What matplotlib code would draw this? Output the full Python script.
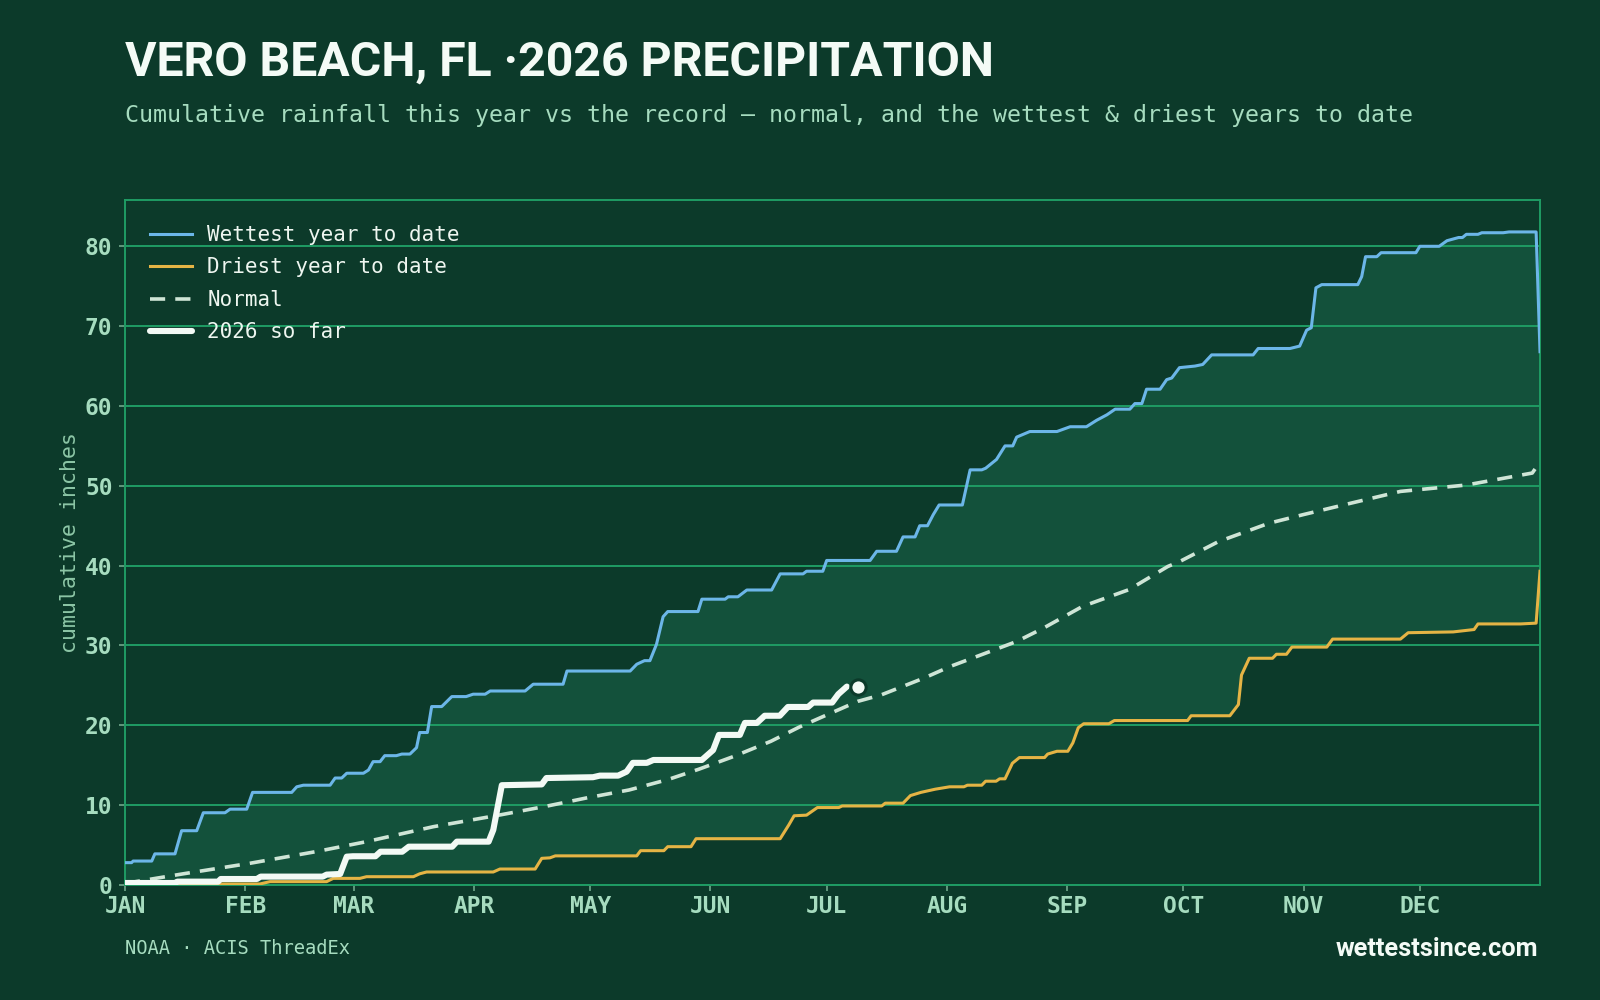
import matplotlib
matplotlib.use("Agg")
import matplotlib.pyplot as plt
import numpy as np

# ---------------- data (day of year, cumulative inches) ----------------
month_days = [0, 31, 59, 90, 120, 151, 181, 212, 243, 273, 304, 334]
month_labels = ["JAN", "FEB", "MAR", "APR", "MAY", "JUN", "JUL", "AUG", "SEP", "OCT", "NOV", "DEC"]
y_ticks = [0, 10, 20, 30, 40, 50, 60, 70, 80]

wet_days = [0, 1.7, 2.1, 6.9, 7.7, 12.9, 14.6, 18.5, 20.2, 25.8, 27.1, 31.4, 32.9, 43, 44.3, 46,
            52.9, 54.2, 55.9, 57.2, 61.5, 62.8, 64, 65.8, 67, 70, 71.4, 73.5, 75.2, 76, 78, 79.1,
            81.7, 84.3, 88, 89.8, 92.9, 94.2, 103.2, 105.3, 113, 114, 130.3, 132, 134, 135.4,
            137.1, 138.8, 140, 147.8, 148.8, 154.8, 155.6, 158.1, 160.4, 166.8, 169, 174.9, 175.8,
            180, 181, 192.2, 193.9, 199, 200.7, 203.8, 205, 207, 208.5, 210, 216, 218, 221, 222,
            224.8, 227, 229, 230, 233.4, 240.4, 243.8, 248, 250.6, 253.3, 255.4, 259.2, 260.5,
            262.3, 263.5, 267, 268.7, 270, 272, 276, 278, 280.3, 291, 292.3, 300.5, 303, 304.8,
            306, 307.2, 308.7, 318, 319, 320, 322.9, 324, 333, 334, 339, 341, 344, 345, 346, 349,
            350, 355.5, 357, 364, 365]
wet_vals = [2.8, 2.8, 3.0, 3.0, 3.9, 3.9, 6.8, 6.8, 9.05, 9.05, 9.5, 9.5, 11.6, 11.6, 12.3, 12.5,
            12.5, 13.4, 13.4, 14.0, 14.0, 14.4, 15.45, 15.45, 16.2, 16.2, 16.4, 16.4, 17.2, 19.1,
            19.1, 22.35, 22.35, 23.6, 23.6, 23.9, 23.9, 24.3, 24.3, 25.15, 25.15, 26.8, 26.8,
            27.65, 28.1, 28.1, 30.15, 33.6, 34.25, 34.25, 35.8, 35.8, 36.1, 36.1, 36.95, 36.95,
            38.97, 38.97, 39.3, 39.3, 40.65, 40.65, 41.8, 41.8, 43.6, 43.6, 45.0, 45.0, 46.4, 47.6,
            47.6, 52.0, 52.0, 52.2, 53.3, 55.0, 55.0, 56.1, 56.8, 56.8, 57.4, 57.4, 58.2, 58.9,
            59.6, 59.6, 60.3, 60.3, 62.1, 62.1, 63.3, 63.5, 64.8, 65.0, 65.2, 66.4, 66.4, 67.2,
            67.2, 67.5, 69.5, 69.8, 74.8, 75.2, 75.2, 76.2, 78.7, 78.7, 79.2, 79.2, 80.0, 80.0,
            80.7, 81.1, 81.1, 81.5, 81.5, 81.7, 81.7, 81.8, 81.8, 66.8]

dry_days = [0, 24.5, 25, 34.8, 37.4, 52, 53.7, 60.6, 62.3, 74.4, 76, 77.8, 95, 96.7, 105.8, 107.5,
            109.6, 111, 132, 133, 139, 140, 146, 147.3, 169, 171.2, 172.6, 175.8, 178.6, 184.1,
            185, 195.2, 196.1, 200.7, 202.6, 205.3, 209, 212.7, 216.4, 217.3, 221, 222, 224.7,
            225.6, 227, 228.9, 230.7, 237.2, 238, 240.4, 243.2, 244.5, 245.9, 247.3, 253.8, 255.2,
            274.1, 275, 285, 287.2, 288, 290, 296, 297, 299.6, 301, 310, 311.5, 329, 331, 342.6,
            348, 349, 360, 364, 365]
dry_vals = [0, 0, 0.13, 0.13, 0.42, 0.42, 0.83, 0.83, 1.04, 1.04, 1.4, 1.63, 1.63, 2.0, 2.0, 3.34,
            3.4, 3.65, 3.65, 4.3, 4.3, 4.8, 4.8, 5.8, 5.8, 7.5, 8.67, 8.75, 9.7, 9.7, 9.9, 9.9,
            10.25, 10.25, 11.2, 11.6, 12.0, 12.3, 12.3, 12.5, 12.5, 13.0, 13.0, 13.3, 13.3, 15.25,
            15.96, 15.96, 16.4, 16.75, 16.75, 17.8, 19.7, 20.2, 20.2, 20.6, 20.6, 21.2, 21.2, 22.6,
            26.3, 28.4, 28.4, 28.9, 28.9, 29.8, 29.8, 30.8, 30.8, 31.6, 31.7, 32.0, 32.7, 32.7,
            32.8, 39.3]

normal_days = [0, 15, 32, 49.5, 62, 79.5, 97, 109, 119, 130, 140, 148, 157, 166.6, 174, 181, 189,
               195, 206, 213, 230, 237, 247, 259, 269, 272, 282, 295, 304, 316, 329, 346, 363, 365]
normal_vals = [0.2, 1.4, 2.7, 4.2, 5.4, 7.3, 8.8, 9.9, 10.9, 11.9, 13.2, 14.5, 16.1, 18.0, 19.8,
               21.3, 23.0, 23.8, 25.9, 27.4, 30.5, 32.2, 34.9, 37.0, 39.9, 40.5, 43.0, 45.3, 46.4,
               47.8, 49.3, 50.1, 51.6, 53.0]

cur_days = [0, 12.9, 13.5, 24, 24.7, 34, 35, 51, 52, 55.5, 57.2, 58.8, 64.6, 65.9, 71.5, 73.2,
            84.4, 85.6, 93.8, 95, 97.2, 107.5, 108.7, 120.7, 122.5, 127.2, 129.4, 131, 134.6,
            136.3, 148.8, 151.7, 153.2, 158.6, 159.9, 163, 165, 168.9, 171, 176.2, 177.5, 182.4,
            184, 186.2]
cur_vals = [0.25, 0.25, 0.42, 0.42, 0.75, 0.75, 1.05, 1.05, 1.3, 1.38, 3.55, 3.6, 3.6, 4.17, 4.17,
            4.8, 4.8, 5.43, 5.43, 6.9, 12.5, 12.6, 13.4, 13.5, 13.7, 13.7, 14.2, 15.3, 15.3, 15.66,
            15.66, 16.9, 18.8, 18.8, 20.3, 20.3, 21.2, 21.2, 22.3, 22.3, 22.85, 22.85, 23.9, 24.85]

today_day = [189]
today_total = [24.8]

# ---------------- style ----------------
BG = "#0c3a2a"
FILL = "#13513b"
GRID = "#1f9c64"
MINT = "#a6dcbf"
WET_C = "#6cb6e8"
DRY_C = "#e5b445"
NORM_C = "#cfe5d6"
CUR_C = "#f3faf5"
MONO = "DejaVu Sans Mono"
SANS = "Roboto"

fig = plt.figure(figsize=(16, 10), dpi=100, facecolor=BG)
ax = fig.add_axes([125 / 1600, 115 / 1000, 1415 / 1600, 685 / 1000])
ax.set_facecolor(BG)

ax.fill(np.concatenate([wet_days, dry_days[::-1]]),
        np.concatenate([wet_vals, dry_vals[::-1]]),
        color=FILL, lw=0, zorder=1)

ax.set_axisbelow("line")
ax.grid(axis="y", color=GRID, lw=1.4)
ax.grid(axis="x", visible=False)

ax.plot(wet_days, wet_vals, color=WET_C, lw=2.2, label="Wettest year to date", zorder=3,
        solid_joinstyle="round")
ax.plot(dry_days, dry_vals, color=DRY_C, lw=2.2, label="Driest year to date", zorder=3,
        solid_joinstyle="round")
ax.plot(normal_days, normal_vals, color=NORM_C, lw=2.6, dashes=(4.2, 2.8), label="Normal",
        zorder=3)
ax.plot(cur_days, cur_vals, color=CUR_C, lw=4.4, label="2026 so far", zorder=4,
        solid_joinstyle="round", solid_capstyle="round")
ax.plot(today_day, today_total, "o", ms=11, color=CUR_C, mec=BG, mew=2.2, zorder=5)

ax.set_xlim(0, 365)
ax.set_ylim(0, 85.8)
ax.set_xticks(month_days)
ax.set_xticklabels(month_labels)
ax.set_yticks(y_ticks)
ax.tick_params(axis="both", colors="#6fa88b", labelcolor=MINT, length=4, width=1.2,
               labelsize=16.5, pad=5)
ax.tick_params(axis="x", pad=3.5)
for lab in ax.get_xticklabels() + ax.get_yticklabels():
    lab.set_fontfamily(MONO)
    lab.set_fontweight("bold")
for s in ax.spines.values():
    s.set_color(GRID)
    s.set_linewidth(1.4)

ax.set_ylabel("cumulative inches", family=MONO, fontsize=15.5, color="#8cc6a6")
ax.yaxis.set_label_coords(-0.032, 0.5)

leg = ax.legend(loc="upper left", bbox_to_anchor=(0.0, 1.0), frameon=False,
                prop={"family": MONO, "size": 15}, labelcolor="#eef6f0",
                handlelength=2.0, handletextpad=0.75, labelspacing=0.6, borderaxespad=0.8)

# ---------------- texts ----------------
title = fig.text(125 / 1600, 1 - 75.5 / 1000, "VERO BEACH, FL ·2026 PRECIPITATION",
                 family=SANS, weight="bold", fontsize=36, color="#f4fbf6", va="baseline")
subtitle = fig.text(125 / 1600, 1 - 122 / 1000,
                    "Cumulative rainfall this year vs the record — normal, and the wettest & driest years to date",
                    family=MONO, fontsize=16.6, color=MINT, va="baseline")
fig.text(125 / 1600, 1 - 954 / 1000, "NOAA · ACIS ThreadEx", family=MONO, fontsize=13.5,
         color=MINT, va="baseline")
brand = fig.text(1538 / 1600, 1 - 956 / 1000, "wettestsince.com", family=SANS, weight="bold",
                 fontsize=17, color="#f4fbf6", va="baseline", ha="right")

# fit text widths to the reference
fig.canvas.draw()
r = fig.canvas.get_renderer()
for t, target in ((title, 870), (brand, 203), (subtitle, 1287)):
    w = t.get_window_extent(r).width
    t.set_fontsize(t.get_fontsize() * target / w)

fig.savefig("out.png", dpi=100, facecolor=BG)
